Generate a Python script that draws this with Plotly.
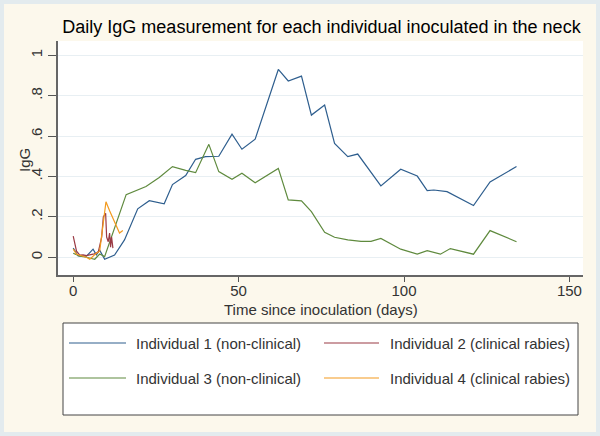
import plotly.graph_objects as go

# ---------------- data ----------------
days1 = [0, 1.5, 4, 6, 7, 8, 9.5, 12.5, 15.5, 19.5, 23, 27.5, 30, 34, 37, 40, 44, 48, 51, 55,
         62, 65, 69, 72, 76, 79, 83, 86, 93, 99, 104, 107, 109, 113, 121, 126, 134]
igg1 = [0.045, 0.006, 0.005, 0.04, 0.012, 0.035, -0.01, 0.011, 0.086, 0.24, 0.28, 0.265, 0.36,
        0.405, 0.485, 0.498, 0.50, 0.61, 0.535, 0.585, 0.93, 0.873, 0.897, 0.704, 0.754, 0.564,
        0.498, 0.511, 0.353, 0.436, 0.402, 0.33, 0.333, 0.325, 0.256, 0.373, 0.449]

days2 = [0, 1, 2, 3, 4, 5, 6, 7, 7.6, 8.6, 9.1, 9.8, 10.1, 10.6, 11, 11.3, 11.6, 12]
igg2 = [0.105, 0.03, 0.01, 0.012, 0.008, 0.01, 0.015, 0.02, 0.028, 0.10, 0.20, 0.218, 0.10,
        0.077, 0.12, 0.05, 0.10, 0.045]

days3 = [0, 2, 4, 6.5, 8, 9.5, 16, 22, 26, 30, 34, 37, 41, 44, 48, 51, 55, 62, 65, 69, 72,
         76, 79, 83, 87, 90, 93, 99, 104, 107, 111, 114, 121, 126, 134]
igg3 = [0.02, 0.005, 0.0, -0.01, 0.016, 0.003, 0.31, 0.35, 0.395, 0.449, 0.43, 0.419, 0.559,
        0.424, 0.386, 0.416, 0.369, 0.44, 0.284, 0.279, 0.226, 0.124, 0.099, 0.086, 0.079,
        0.079, 0.093, 0.04, 0.016, 0.033, 0.015, 0.043, 0.015, 0.132, 0.077]

days4 = [0, 1, 2, 3, 4, 5, 6, 7, 8, 9, 9.9, 11, 14, 15]
igg4 = [0.04, 0.015, 0.01, 0.005, 0.0, -0.01, 0.005, 0.02, 0.03, 0.15, 0.275, 0.23, 0.12, 0.132]

names = ["Individual 1 (non-clinical)", "Individual 2 (clinical rabies)",
         "Individual 3 (non-clinical)", "Individual 4 (clinical rabies)"]
colors = ["#2e5e8e", "#9a3a44", "#5f8a3e", "#f39a1e"]

x_ticks = [0, 50, 100, 150]
y_ticks = [0, 0.2, 0.4, 0.6, 0.8, 1]
y_ticktext = ["0", ".2", ".4", ".6", ".8", "1"]

title_text = "Daily IgG measurement for each individual inoculated in the neck"
x_title = "Time since inoculation (days)"
y_title = "IgG"

# ---------------- geometry ----------------
W, H = 600, 436
L, R, T, B = 58, 17, 41, 161
PW, PH = W - L - R, H - T - B


def px(x):
    return (x - L) / PW


def py(y):
    return (H - B - y) / PH


FONT = "Liberation Sans, Arial, sans-serif"
TXT = "#333333"

fig = go.Figure()
series = [(days1, igg1), (days2, igg2), (days3, igg3), (days4, igg4)]
draw_order = [0, 2, 1, 3]
for i in draw_order:
    d, v = series[i]
    fig.add_trace(go.Scatter(x=d, y=v, mode="lines", name=names[i],
                             line=dict(color=colors[i], width=1.2),
                             showlegend=False))

shapes = []
annotations = []

# outer frame
shapes.append(dict(type="rect", xref="paper", yref="paper",
                   x0=px(0), x1=px(W), y0=py(H), y1=py(0),
                   line=dict(color="#e3ebee", width=8), fillcolor="rgba(0,0,0,0)",
                   layer="above"))

# legend box
shapes.append(dict(type="rect", xref="paper", yref="paper",
                   x0=px(63), x1=px(578), y0=py(415), y1=py(323),
                   line=dict(color="#444444", width=1), fillcolor="white"))
leg_pos = [(69, 126, 134, 343), (324, 379, 388, 343), (69, 126, 134, 378), (324, 379, 388, 378)]
for i, (lx0, lx1, tx, ly) in enumerate(leg_pos):
    shapes.append(dict(type="line", xref="paper", yref="paper",
                       x0=px(lx0), x1=px(lx1), y0=py(ly), y1=py(ly),
                       line=dict(color=colors[i], width=1.2)))
    annotations.append(dict(text=names[i], xref="paper", yref="paper",
                            x=px(tx), y=py(ly), xanchor="left", yanchor="middle",
                            showarrow=False, font=dict(family=FONT, size=15, color=TXT)))

# axis titles
annotations.append(dict(text=x_title, xref="paper", yref="paper",
                        x=px(320.5), y=py(309), xanchor="center", yanchor="middle",
                        showarrow=False, font=dict(family=FONT, size=15, color=TXT)))
annotations.append(dict(text=y_title, xref="paper", yref="paper",
                        x=px(24), y=py(160), xanchor="center", yanchor="middle",
                        textangle=-90, showarrow=False,
                        font=dict(family=FONT, size=15, color=TXT)))

fig.update_layout(
    width=W, height=H,
    margin=dict(l=L, r=R, t=T, b=B, pad=0),
    paper_bgcolor="#fcf8ec",
    plot_bgcolor="white",
    title=dict(text=title_text, x=px(321.5), xref="paper", xanchor="center",
               y=1 - 27 / H, yref="container", yanchor="middle",
               font=dict(family=FONT, size=18, color="black")),
    shapes=shapes,
    annotations=annotations,
    showlegend=False,
    xaxis=dict(range=[-4.6, 154.1], tickvals=x_ticks, ticks="outside", ticklen=5,
               ticklabelstandoff=-4,
               tickcolor="#555555", tickwidth=1.2, showline=True, linecolor="#666666",
               linewidth=1.5, showgrid=False, zeroline=False,
               tickfont=dict(family=FONT, size=15, color=TXT)),
    yaxis=dict(range=[-0.088, 1.071], tickvals=y_ticks, ticktext=y_ticktext,
               ticks="outside", ticklen=8, tickcolor="#555555", tickwidth=1.2,
               showline=True, linecolor="#666666", linewidth=1.5,
               showgrid=True, gridcolor="#e8eff3", gridwidth=1, zeroline=False,
               tickangle=-90, tickfont=dict(family=FONT, size=15, color=TXT)),
)

fig.write_html("out.html", config={"displayModeBar": False},
               post_script="document.body.style.margin='0';document.body.style.padding='0';")
